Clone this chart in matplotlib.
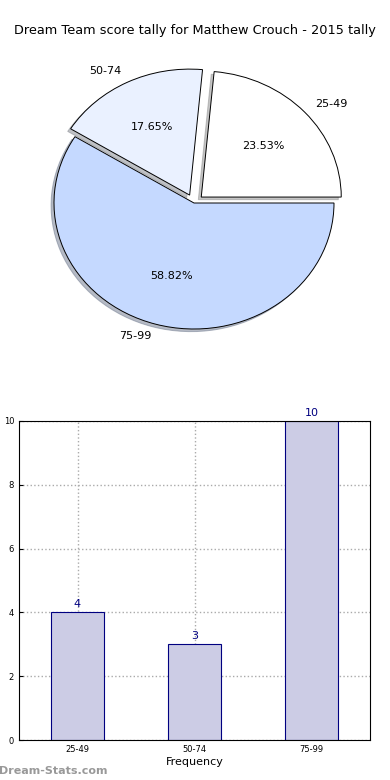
import matplotlib
matplotlib.use('Agg')
import matplotlib.pyplot as plt
import numpy as np

# score bands and how many games fell into each
bands = ['25-49', '50-74', '75-99']
counts = [4, 3, 10]
pie_colors = ['#ffffff', '#eaf1ff', '#c5d9ff']
explode = [0.07, 0.07, 0.0]

fig = plt.figure(figsize=(3.9, 7.8), dpi=100)
fig.text(0.5, 0.961, 'Dream Team score tally for Matthew Crouch - 2015 tally',
         ha='center', va='center', fontsize=9.3)

# Pie chart (old-style, not forced to equal aspect -> slightly elliptical)
ax1 = fig.add_axes([19 / 390, 1 - 360.5 / 780, 350 / 390, 315 / 780])
wedges, texts, autotexts = ax1.pie(counts, labels=bands, colors=pie_colors,
                                   explode=explode, autopct='%1.2f%%',
                                   startangle=0, labeldistance=1.1,
                                   shadow={'ox': -0.015, 'oy': -0.015, 'shade': 0.45},
                                   wedgeprops={'edgecolor': 'black', 'linewidth': 0.7},
                                   textprops={'fontsize': 8})
ax1.set_xlim(-1.25, 1.25)
ax1.set_ylim(-1.25, 1.25)
ax1.set_aspect('auto')
ax1.axis('off')

# Bar chart
ax2 = fig.add_axes([19 / 390, 1 - 740 / 780, 351 / 390, 319 / 780])
x = np.arange(len(bands))
bars = ax2.bar(x, counts, width=0.45, color='#cccce5', edgecolor='navy', linewidth=0.8, zorder=2)
for xi, c in zip(x, counts):
    ax2.text(xi, c + 0.1, str(c), ha='center', va='bottom', color='navy', fontsize=8)
ax2.set_xlim(-0.5, 2.5)
ax2.set_ylim(0, 10)
ax2.set_xticks(x)
ax2.set_xticklabels(bands)
ax2.set_yticks(range(0, 11, 2))
ax2.tick_params(labelsize=6, direction='in', length=3)
ax2.grid(True, linestyle=':', color='#aaaaaa', linewidth=1)
ax2.set_xlabel('Frequency', fontsize=8, labelpad=2)
ax2.set_ylabel('Score Intervals', fontsize=8, labelpad=6)

fig.text(-0.003, 0.012, 'Dream-Stats.com', color='#999999', fontsize=8,
         fontweight='bold', ha='left', va='center')

fig.savefig('out.png', dpi=100)
